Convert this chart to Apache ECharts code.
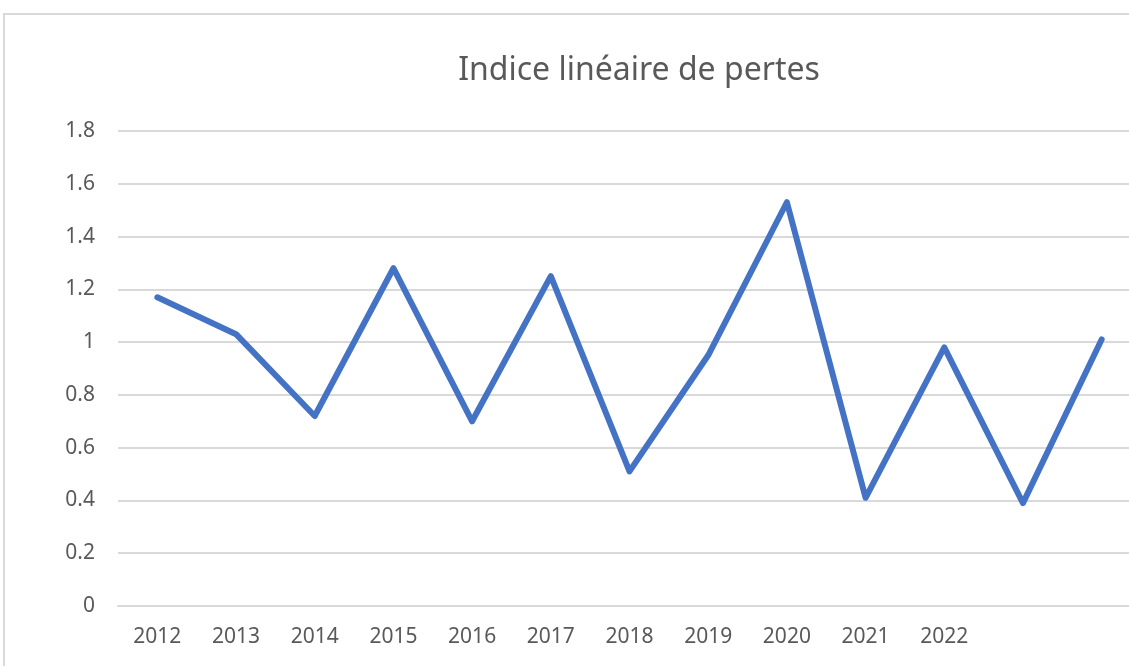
<!DOCTYPE html>
<html>
<head>
<meta charset="utf-8">
<style>
  html, body { margin: 0; padding: 0; background: #fff; overflow: hidden; }
  #main { width: 1200px; height: 666px; }
</style>
<script src="https://cdn.jsdelivr.net/npm/echarts@6/dist/echarts.min.js"></script>
</head>
<body>
<div id="main"></div>
<script>
// categories (the last two points have no label in the original)
var years = ['2012', '2013', '2014', '2015', '2016', '2017', '2018', '2019', '2020', '2021', '2022', '', ''];
var pertes = [1.17, 1.03, 0.72, 1.28, 0.70, 1.25, 0.51, 0.95, 1.53, 0.41, 0.98, 0.39, 1.01];
var yMin = 0, yMax = 1.8, yStep = 0.2;

var chart = echarts.init(document.getElementById('main'), null, { renderer: 'canvas' });

var option = {
  animation: false,
  backgroundColor: '#fff',
  title: {
    text: 'Indice linéaire de pertes',
    left: 634,
    textAlign: 'center',
    top: 50,
    textStyle: {
      fontFamily: 'Noto Sans',
      fontSize: 32,
      fontWeight: 'normal',
      color: '#595959'
    }
  },
  graphic: [{
    type: 'rect',
    shape: { x: 4, y: 14, width: 1300, height: 800 },
    style: { fill: 'none', stroke: '#d9d9d9', lineWidth: 2 },
    silent: true
  }],
  grid: {
    left: 118,
    top: 131,
    width: 1023,
    bottom: 60
  },
  xAxis: {
    type: 'category',
    data: years,
    boundaryGap: true,
    axisLine: { show: true, lineStyle: { color: '#d9d9d9', width: 2 } },
    axisTick: { show: false },
    axisLabel: {
      interval: 0,
      margin: 21,
      fontFamily: 'Noto Sans',
      fontSize: 21,
      color: '#595959'
    }
  },
  yAxis: {
    type: 'value',
    min: yMin,
    max: yMax,
    interval: yStep,
    axisLine: { show: false },
    axisTick: { show: false },
    axisLabel: {
      margin: 23,
      fontFamily: 'Noto Sans',
      fontSize: 21,
      color: '#595959'
    },
    splitLine: { lineStyle: { color: '#d9d9d9', width: 2 } }
  },
  series: [{
    name: 'Indice linéaire de pertes',
    type: 'line',
    data: pertes,
    showSymbol: false,
    symbol: 'none',
    lineStyle: { color: '#4472c4', width: 6, cap: 'round', join: 'round' }
  }]
};

chart.setOption(option);
</script>
</body>
</html>
